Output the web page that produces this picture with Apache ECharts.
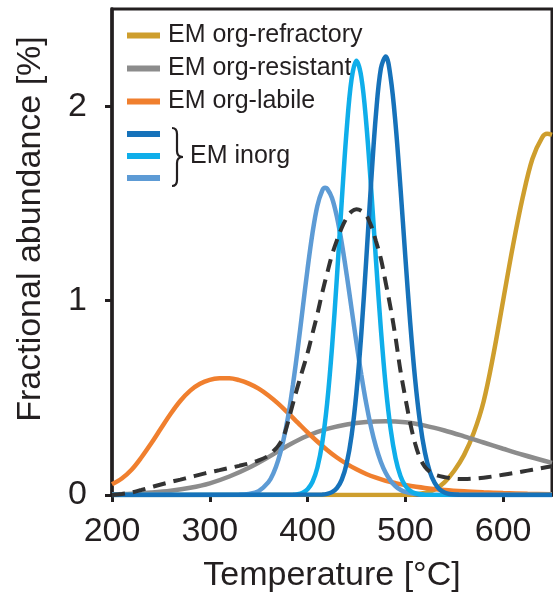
<!DOCTYPE html>
<html>
<head>
<meta charset="utf-8">
<script src="https://cdn.jsdelivr.net/npm/echarts@6/dist/echarts.min.js"></script>
<style>
html,body{margin:0;padding:0;background:#fff;}
#chart{width:553px;height:598px;}
</style>
</head>
<body>
<div id="chart"></div>
<script>
// ---- data ----
const xTicks = [200, 300, 400, 500, 600];
const yTicks = [0, 1, 2];

const refractoryT = [200,500,510,520,530,540,550,560,570,580,590,600,610,620,630,640,645,650];
const refractoryV = [0,0,0.003,0.01,0.028,0.065,0.125,0.205,0.32,0.48,0.72,1.0,1.28,1.53,1.73,1.84,1.858,1.852];

const resistantT = [200,220,240,260,280,300,320,340,360,380,400,420,440,460,480,500,520,540,560,580,600,620,650];
const resistantV = [0.004,0.007,0.013,0.022,0.037,0.06,0.095,0.14,0.195,0.255,0.305,0.34,0.363,0.376,0.38,0.374,0.357,0.332,0.302,0.27,0.238,0.207,0.165];

const labileT = [200,210,220,230,240,250,260,270,280,290,300,310,320,330,340,350,360,370,380,390,400,410,420,430,440,450,460,470,480,490,500,520,540,560,580,600,625,650];
const labileV = [0.055,0.085,0.13,0.193,0.265,0.342,0.418,0.485,0.537,0.572,0.592,0.6,0.601,0.591,0.573,0.547,0.512,0.47,0.422,0.372,0.322,0.275,0.232,0.193,0.16,0.132,0.108,0.089,0.073,0.061,0.051,0.036,0.026,0.019,0.014,0.01,0.006,0.004];

const inorgDarkT = [200,415,420,425,430,435,440,445,450,455,460,465,470,475,480,485,490,495,500,505,510,515,520,525,530,535,540,545,555,650];
const inorgDarkV = [0,0.002,0.0055,0.0145,0.035,0.079,0.162,0.305,0.527,0.832,1.208,1.607,1.961,2.194,2.256,2.146,1.908,1.582,1.225,0.885,0.596,0.374,0.22,0.12,0.062,0.029,0.013,0.005,0.001,0];

const inorgCyanT = [200,385,390,395,400,405,410,415,420,425,430,435,440,445,450,455,460,465,470,475,480,485,490,495,500,505,510,520,650];
const inorgCyanV = [0,0.001,0.004,0.012,0.03,0.067,0.14,0.268,0.471,0.758,1.118,1.514,1.879,2.139,2.234,2.149,1.915,1.579,1.205,0.852,0.557,0.338,0.189,0.098,0.047,0.021,0.009,0.001,0];

const inorgLightT = [200,330,340,350,360,365,370,375,380,385,390,395,400,405,410,415,418,420,425,430,435,440,445,450,455,460,465,470,475,480,485,490,495,500,510,520,650];
const inorgLightV = [0,0.001,0.005,0.02,0.066,0.111,0.179,0.275,0.40,0.565,0.753,0.958,1.163,1.346,1.487,1.566,1.58,1.576,1.528,1.431,1.296,1.134,0.958,0.783,0.618,0.471,0.347,0.247,0.17,0.113,0.073,0.045,0.027,0.016,0.005,0.001,0];

const measuredT = [200,210,220,230,240,250,260,270,280,290,300,310,320,330,340,350,360,365,370,375,380,385,390,395,400,405,410,415,420,425,430,435,440,445,450,455,460,465,470,475,480,485,490,495,500,505,510,515,520,525,530,540,550,560,570,580,590,600,610,620,630,640,650];
const measuredV = [0,0.005,0.013,0.026,0.04,0.054,0.067,0.079,0.092,0.105,0.117,0.128,0.139,0.15,0.162,0.178,0.202,0.226,0.253,0.295,0.375,0.47,0.56,0.645,0.73,0.83,0.93,1.04,1.14,1.235,1.31,1.375,1.425,1.458,1.47,1.462,1.44,1.385,1.305,1.215,1.09,0.96,0.81,0.64,0.5,0.37,0.265,0.19,0.145,0.12,0.105,0.092,0.084,0.082,0.084,0.089,0.096,0.104,0.112,0.121,0.13,0.139,0.148];

const names = {
  refractory: 'EM org-refractory',
  resistant: 'EM org-resistant',
  labile: 'EM org-labile',
  dark: 'EM inorg 1',
  cyan: 'EM inorg 2',
  light: 'EM inorg 3',
  measured: 'measured'
};
const colors = {
  refractory: '#CE9E2D',
  resistant: '#8C8C8C',
  labile: '#F07F2E',
  dark: '#1672BA',
  cyan: '#0FAEEA',
  light: '#5D9BD5',
  measured: '#333333'
};

function pairs(t, v) { return t.map((x, i) => [x, v[i]]); }

const FONT = '"Liberation Sans", Arial, Helvetica, sans-serif';
const INK = '#231F20';

function lineSeries(key, t, v, extra) {
  return Object.assign({
    name: names[key],
    type: 'line',
    data: pairs(t, v),
    smooth: 0.35,
    showSymbol: false,
    symbol: 'none',
    color: colors[key],
    lineStyle: { width: 4.5, color: colors[key] },
    emphasis: { disabled: true },
    z: 3
  }, extra || {});
}

const braceStyle = { fill: 'none', stroke: INK, lineWidth: 2.2 };
function bz(x1, y1, cx, cy, x2, y2) {
  return { type: 'bezierCurve', shape: { x1: x1, y1: y1, cpx1: cx, cpy1: cy, x2: x2, y2: y2 }, style: braceStyle, z: 10 };
}
function ln(x1, y1, x2, y2) {
  return { type: 'line', shape: { x1: x1, y1: y1, x2: x2, y2: y2 }, style: braceStyle, z: 10 };
}

const chart = echarts.init(document.getElementById('chart'), null, { renderer: 'canvas' });

chart.setOption({
  animation: false,
  backgroundColor: '#fff',
  grid: {
    left: 112, right: 1, top: 9, bottom: 101,
    show: true, borderColor: INK, borderWidth: 3, backgroundColor: 'transparent'
  },
  xAxis: {
    type: 'value',
    min: 200, max: 650, interval: 100,
    name: 'Temperature [°C]',
    nameLocation: 'middle',
    nameGap: 64,
    nameTextStyle: { fontFamily: FONT, fontSize: 34, color: INK },
    axisLine: { show: true, onZero: false, lineStyle: { color: INK, width: 3.5 } },
    axisTick: { show: true, inside: false, length: 7, lineStyle: { color: INK, width: 3 } },
    axisLabel: {
      fontFamily: FONT, fontSize: 34, color: INK, margin: 20,
      showMaxLabel: false,
      formatter: v => xTicks.indexOf(v) >= 0 ? String(v) : ''
    },
    splitLine: { show: false }
  },
  yAxis: {
    type: 'value',
    min: 0, max: 2.5, interval: 1,
    name: 'Fractional abundance [%]',
    nameLocation: 'middle',
    nameGap: 64,
    nameTextStyle: { fontFamily: FONT, fontSize: 34, color: INK, padding: [0, 0, 0, 46] },
    axisLine: { show: true, lineStyle: { color: INK, width: 3.5 } },
    axisTick: { show: true, inside: false, length: 7, lineStyle: { color: INK, width: 3 } },
    axisLabel: {
      fontFamily: FONT, fontSize: 34, color: INK, margin: 25,
      showMaxLabel: false,
      formatter: v => yTicks.indexOf(v) >= 0 ? String(v) : ''
    },
    splitLine: { show: false }
  },
  legend: [
    {
      data: [names.refractory, names.resistant, names.labile],
      orient: 'vertical',
      left: 127, top: 23,
      itemWidth: 33, itemHeight: 6, itemGap: 8,
      icon: 'rect',
      selectedMode: false,
      padding: 0,
      z: 1,
      textStyle: { fontFamily: FONT, fontSize: 25, color: INK, padding: [0, 0, 0, 3] }
    },
    {
      data: [names.dark, names.cyan, names.light],
      orient: 'vertical',
      left: 127, top: 131,
      itemWidth: 33, itemHeight: 6, itemGap: 16,
      icon: 'rect',
      selectedMode: false,
      padding: 0,
      z: 1,
      formatter: () => '',
      textStyle: { fontSize: 6, lineHeight: 6 }
    }
  ],
  graphic: [
    bz(172, 128, 177, 128, 177, 134),
    ln(177, 134, 177, 151),
    bz(177, 151, 177, 157, 183, 157),
    bz(183, 157, 177, 157, 177, 163),
    ln(177, 163, 177, 180),
    bz(177, 180, 177, 186, 172, 186),
    {
      type: 'text',
      left: 190, top: 144,
      style: { text: 'EM inorg', font: '25px ' + FONT, fill: INK },
      z: 10
    }
  ],
  series: [
    lineSeries('refractory', refractoryT, refractoryV),
    lineSeries('resistant', resistantT, resistantV),
    lineSeries('labile', labileT, labileV),
    lineSeries('light', inorgLightT, inorgLightV),
    lineSeries('cyan', inorgCyanT, inorgCyanV),
    lineSeries('dark', inorgDarkT, inorgDarkV),
    lineSeries('measured', measuredT, measuredV, {
      lineStyle: { width: 4, color: colors.measured, type: [13, 8] },
      z: 4
    })
  ]
});
</script>
</body>
</html>
